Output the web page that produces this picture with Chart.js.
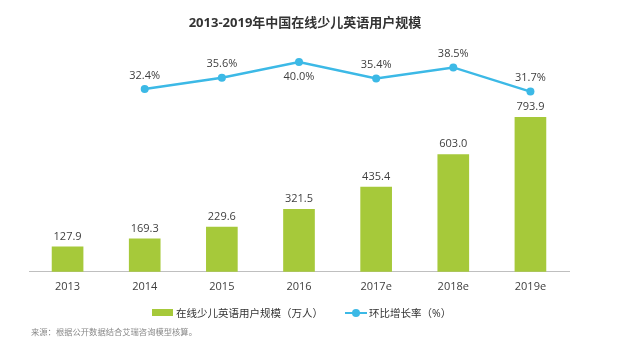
<!DOCTYPE html>
<html>
<head>
<meta charset="utf-8">
<script src="https://cdn.jsdelivr.net/npm/chart.js@4"></script>
<style>
  body { margin: 0; background: #fff; }
  #wrap { position: relative; width: 640px; height: 360px; font-family: "Open Sans", "Noto Sans CJK SC", sans-serif; }
  #chart { position: absolute; left: 0; top: 0; }
  .title { position: absolute; top: 12px; left: 0; width: 610px; text-align: center; font-size: 13px; font-weight: bold; color: #333; }
  .legend { position: absolute; top: 305px; left: 152px; font-size: 10.5px; color: #333; display: flex; align-items: center; white-space: nowrap; }
  .swatch { width: 21px; height: 7px; background: #a6c93a; margin-right: 3px; }
  .lineKey { position: relative; width: 22px; height: 2px; background: #3cb9e6; margin-left: 22px; margin-right: 2px; }
  .lineKey::after { content: ""; position: absolute; left: 7px; top: -3px; width: 8px; height: 8px; border-radius: 50%; background: #3cb9e6; }
  .source { position: absolute; top: 325px; left: 31px; font-size: 8.3px; color: #888; }
</style>
</head>
<body>
<div id="wrap">
  <canvas id="chart" width="640" height="360"></canvas>
  <div class="title">2013-2019年中国在线少儿英语用户规模</div>
  <div class="legend">
    <span class="swatch"></span><span>在线少儿英语用户规模（万人）</span>
    <span class="lineKey"></span><span>环比增长率（%）</span>
  </div>
  <div class="source">来源：根据公开数据结合艾瑞咨询模型核算。</div>
</div>
<script>
const years = ["2013", "2014", "2015", "2016", "2017e", "2018e", "2019e"];
const users = [127.9, 169.3, 229.6, 321.5, 435.4, 603.0, 793.9];
const growth = [null, 32.4, 35.6, 40.0, 35.4, 38.5, 31.7];
// label below the point for these indexes
const growthBelow = [3];

const GREEN = "#a6c93a";
const BLUE = "#3cb9e6";

// draws the value labels
const valueLabels = {
  id: "valueLabels",
  afterDatasetsDraw(chart) {
    const ctx = chart.ctx;
    ctx.save();
    ctx.fillStyle = "#404040";
    ctx.font = "11px 'Open Sans', sans-serif";
    ctx.textAlign = "center";
    ctx.textBaseline = "bottom";
    chart.getDatasetMeta(1).data.forEach((bar, i) => {
      ctx.fillText(users[i].toFixed(1), bar.x, bar.y - 5);
    });
    chart.getDatasetMeta(0).data.forEach((pt, i) => {
      if (growth[i] == null) return;
      const txt = growth[i].toFixed(1) + "%";
      if (growthBelow.includes(i)) {
        ctx.textBaseline = "top";
        ctx.fillText(txt, pt.x, pt.y + 9);
      } else {
        ctx.textBaseline = "bottom";
        ctx.fillText(txt, pt.x, pt.y - 8);
      }
    });
    ctx.restore();
  }
};

new Chart(document.getElementById("chart"), {
  data: {
    labels: years,
    datasets: [
      {
        type: "line",
        label: "环比增长率（%）",
        data: growth,
        yAxisID: "y1",
        borderColor: BLUE,
        backgroundColor: BLUE,
        borderWidth: 2.5,
        pointRadius: 4,
        pointBackgroundColor: BLUE,
        pointBorderWidth: 0,
        tension: 0,
      },
      {
        type: "bar",
        label: "在线少儿英语用户规模（万人）",
        data: users,
        yAxisID: "y",
        backgroundColor: GREEN,
        barThickness: 31,
      },
    ],
  },
  options: {
    responsive: false,
    animation: false,
    layout: { padding: { left: 29, right: 71, top: 50, bottom: 59 } },
    plugins: {
      legend: { display: false },
      title: { display: false },
      tooltip: { enabled: false },
    },
    scales: {
      x: {
        grid: { display: false, drawTicks: false },
        border: { color: "#bfbfbf", width: 1 },
        ticks: { color: "#404040", font: { size: 11, family: "'Open Sans', sans-serif" }, padding: 8 },
      },
      y: { display: false, min: 0, max: 1140 },
      y1: { display: false, min: -19, max: 43.4 },
    },
  },
  plugins: [valueLabels],
});
</script>
</body>
</html>
